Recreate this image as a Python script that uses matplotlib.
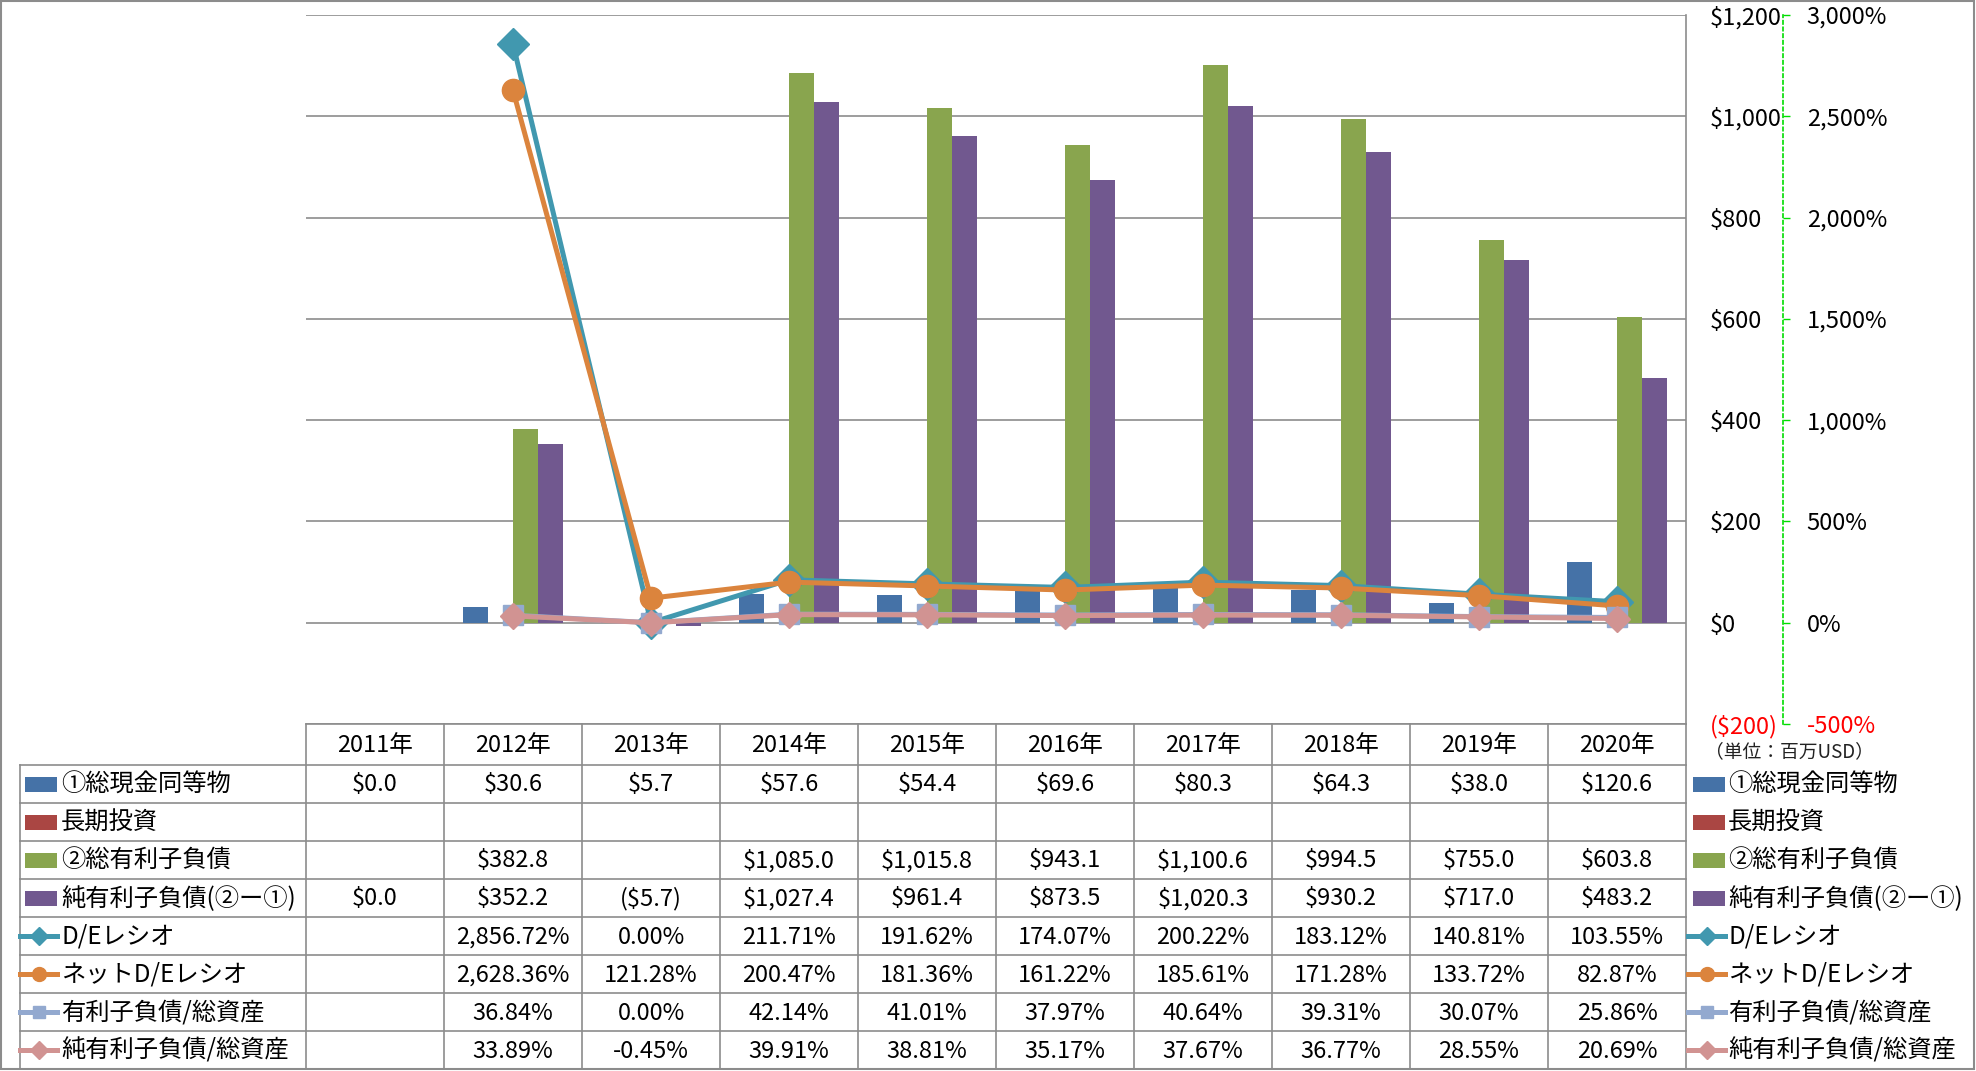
import matplotlib
matplotlib.use("Agg")
import matplotlib.pyplot as plt
import numpy as np
from matplotlib.patches import Rectangle
from matplotlib.lines import Line2D
from matplotlib.ticker import FuncFormatter

plt.rcParams['font.family'] = ['Noto Sans CJK JP', 'DejaVu Sans']

# ---------------- data ----------------
years = ['2011年', '2012年', '2013年', '2014年', '2015年', '2016年', '2017年', '2018年', '2019年', '2020年']
cash = [0.0, 30.6, 5.7, 57.6, 54.4, 69.6, 80.3, 64.3, 38.0, 120.6]
lt_invest = [None] * 10
gross_debt = [None, 382.8, None, 1085.0, 1015.8, 943.1, 1100.6, 994.5, 755.0, 603.8]
net_debt = [0.0, 352.2, -5.7, 1027.4, 961.4, 873.5, 1020.3, 930.2, 717.0, 483.2]
de_ratio = [None, 2856.72, 0.00, 211.71, 191.62, 174.07, 200.22, 183.12, 140.81, 103.55]
net_de_ratio = [None, 2628.36, 121.28, 200.47, 181.36, 161.22, 185.61, 171.28, 133.72, 82.87]
debt_assets = [None, 36.84, 0.00, 42.14, 41.01, 37.97, 40.64, 39.31, 30.07, 25.86]
net_debt_assets = [None, 33.89, -0.45, 39.91, 38.81, 35.17, 37.67, 36.77, 28.55, 20.69]

bar_labels = ['①総現金同等物', '長期投資', '②総有利子負債', '純有利子負債(②ー①)']
line_labels = ['D/Eレシオ', 'ネットD/Eレシオ', '有利子負債/総資産', '純有利子負債/総資産']
usd_ticks = [-200, 0, 200, 400, 600, 800, 1000, 1200]
pct_ticks = [-500, 0, 500, 1000, 1500, 2000, 2500, 3000]
unit_text = '（単位：百万USD）'

# ---------------- styles ----------------
bar_colors = ['#4572A7', '#AA4643', '#89A54E', '#71588F']
line_colors = ['#4198AF', '#DB843D', '#93A9CF', '#D19392']
line_markers = ['D', 'o', 's', 'D']
line_ms = [16, 16, 15, 13]
GRID = '#8c8c8c'

W, H = 1976, 1071
fig = plt.figure(figsize=(W / 100, H / 100), dpi=100)

PL, PR, PT, PB = 306, 1686, 15, 724
ax = fig.add_axes([PL / W, 1 - PB / H, (PR - PL) / W, (PB - PT) / H])
n = len(years)
ax.set_xlim(0, n)
ax.set_ylim(-200, 1200)
ax.set_yticks(usd_ticks)
ax.yaxis.grid(True, color=GRID, lw=1.2)
ax.set_axisbelow(True)
ax.set_xticks([])
for s in ['top', 'left', 'bottom']:
    ax.spines[s].set_visible(False)
ax.spines['right'].set_color(GRID)
ax.spines['right'].set_linewidth(1.2)
ax.yaxis.set_major_formatter(FuncFormatter(
    lambda v, p: f'${v:,.0f}' if v >= 0 else f'(${-v:,.0f})'))

bar_series = [cash, lt_invest, gross_debt, net_debt]
bw = 1 / 5.5
for k, (vals, col) in enumerate(zip(bar_series, bar_colors)):
    xs = [i + 0.5 + (k - 1.5) * bw for i, v in enumerate(vals) if v is not None]
    hs = [v for v in vals if v is not None]
    if xs:
        ax.bar(xs, hs, width=bw, color=col, zorder=2)

ax2 = ax.twinx()
ax.yaxis.tick_right()
ax.tick_params(axis='y', length=0, pad=17, labelsize=17)
ax2.set_ylim(-500, 3000)
ax2.set_yticks(pct_ticks)
for s in ['top', 'left', 'bottom']:
    ax2.spines[s].set_visible(False)
ax2.spines['right'].set_position(('outward', 97 * 0.72))
ax2.spines['right'].set_color('#00dd00')
ax2.spines['right'].set_linestyle((0, (2, 2)))
ax2.spines['right'].set_linewidth(1.2)
ax2.tick_params(axis='y', length=5, width=1, color='#00dd00', direction='out',
                pad=12, labelsize=17)
ax2.yaxis.set_major_formatter(FuncFormatter(lambda v, p: f'{v:,.0f}%'))

line_series = [de_ratio, net_de_ratio, debt_assets, net_debt_assets]
xc = np.arange(n) + 0.5
for vals, col, mk, ms in zip(line_series, line_colors, line_markers, line_ms):
    y = np.array([np.nan if v is None else v for v in vals])
    ax2.plot(xc, y, color=col, lw=3.6, marker=mk, ms=ms, mec=col, mfc=col,
             solid_joinstyle='round', clip_on=False)

fig.canvas.draw()
ax.get_yticklabels()[0].set_color('red')
ax2.get_yticklabels()[0].set_color('red')

# ---------------- table overlay ----------------
ov = fig.add_axes([0, 0, 1, 1])
ov.set_xlim(0, W)
ov.set_ylim(H, 0)
ov.axis('off')
ov.patch.set_visible(False)

CW = (PR - PL) / n
HT, HB, RH = 724, 765, 38
LX = 20
nrows = 8
TB = HB + nrows * RH

ov.plot([PL, PR], [HT, HT], color=GRID, lw=1.2)
for r in range(nrows + 1):
    ov.plot([LX, PR], [HB + r * RH] * 2, color=GRID, lw=1.2)
for i in range(n + 1):
    ov.plot([PL + i * CW] * 2, [HT, TB], color=GRID, lw=1.2)
ov.plot([LX, LX], [HB, TB], color=GRID, lw=1.2)

for i, yr in enumerate(years):
    ov.text(PL + (i + 0.5) * CW, (HT + HB) / 2 + 1, yr, ha='center', va='center', fontsize=17)


def fmt_usd(v):
    if v is None:
        return ''
    return f'(${-v:,.1f})' if v < 0 else f'${v:,.1f}'


def fmt_pct(v):
    return '' if v is None else f'{v:,.2f}%'


rows = []
for k in range(4):
    rows.append((bar_labels[k], bar_series[k], fmt_usd, 'bar', k))
for k in range(4):
    rows.append((line_labels[k], line_series[k], fmt_pct, 'line', k))


def legend_key(x0, yc, kind, k):
    if kind == 'bar':
        ov.add_patch(Rectangle((x0 + 5, yc - 7.5), 32, 15, color=bar_colors[k], lw=0))
    else:
        ov.add_line(Line2D([x0, x0 + 37], [yc, yc], color=line_colors[k], lw=3.6))
        ov.add_line(Line2D([x0 + 18.5], [yc], color=line_colors[k], marker=line_markers[k],
                           ms=9 if line_markers[k] != 'o' else 10, mec=line_colors[k],
                           mfc=line_colors[k]))


for r, (lab, vals, fmt, kind, k) in enumerate(rows):
    yc = HB + r * RH + RH / 2
    legend_key(LX, yc, kind, k)
    ov.text(61, yc + 1, lab, ha='left', va='center', fontsize=17.5)
    for i, v in enumerate(vals):
        ov.text(PL + (i + 0.5) * CW, yc + 1, fmt(v), ha='center', va='center', fontsize=17)
    # right legend
    legend_key(1688, yc, kind, k)
    ov.text(1728, yc + 1, lab, ha='left', va='center', fontsize=17.5)

ov.text(1705, 752, unit_text, ha='left', va='center', fontsize=13.5, color='#222222')

# outer border
ov.add_patch(Rectangle((1, 1), W - 3, H - 3, fill=False, ec=GRID, lw=1.5))

fig.savefig('out.png', dpi=100)
